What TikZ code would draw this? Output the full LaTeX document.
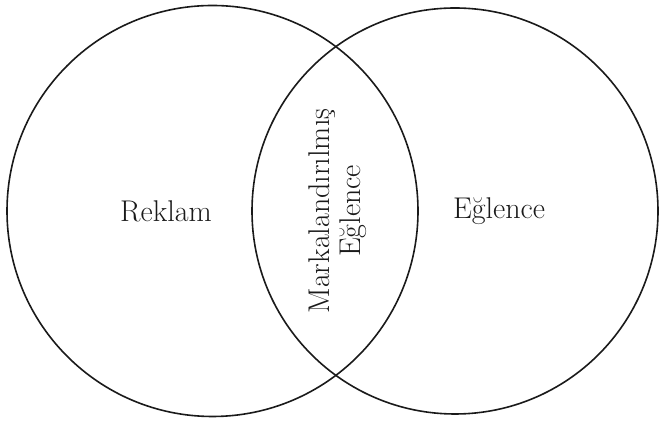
\documentclass[tikz,border=0pt]{standalone}
\usepackage{tikz}
\usetikzlibrary{positioning}
\usepackage{xcolor}
\definecolor{ink}{HTML}{1A1A1A}

\begin{document}
\begin{tikzpicture}[
  x=1pt, y=1pt,
  ring/.style={draw=ink, line width=1.6pt},
  lbl/.style={font=\fontsize{30}{31}\selectfont, text=ink, inner sep=0pt},
]
\useasboundingbox (0,0) rectangle (659,422);

% two sets
\draw[ring] (212.5,211) circle (205.5);
\draw[ring] (455,211) circle (203);

% labels
\node[lbl] (reklam) at (166,211) {Reklam};
\node[lbl] (eglence) at (499,211) {Eğlence};
\node[lbl, rotate=90, align=center] (kesisim) at (338,211)
  {Markalandırılmış\\[0pt] Eğlence};
\end{tikzpicture}
\end{document}
